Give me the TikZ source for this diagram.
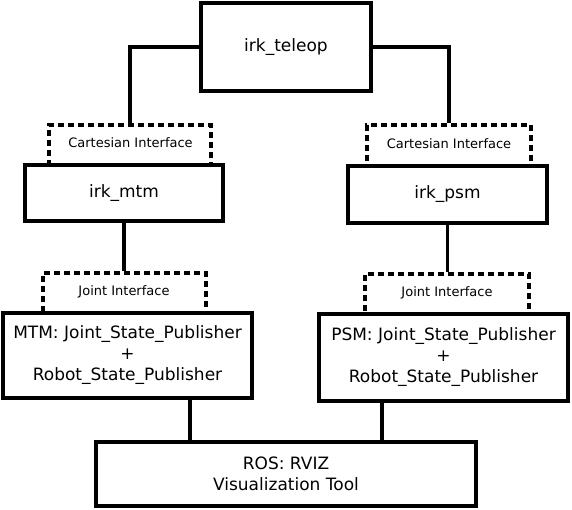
\documentclass[tikz,border=0pt]{standalone}
\usepackage{fontspec}
\setmainfont{DejaVu Sans}
\begin{document}
\begin{tikzpicture}[x=1pt,y=-1pt,
  solidbox/.style={draw,line width=4.5pt,fill=white,inner sep=0pt,align=center,
    font=\fontsize{17}{21}\selectfont},
  ifacebox/.style={draw,line width=4.5pt,dash pattern=on 6pt off 4pt,inner sep=0pt},
  ifacetext/.style={font=\fontsize{13}{15}\selectfont},
  conn/.style={line width=3.5pt}]
\useasboundingbox (0,0) rectangle (572,509);
% dashed interface boxes (drawn first, solid boxes overlap their bottoms)
\node[ifacebox,minimum width=162pt,minimum height=41pt] (cartL) at (130,145.5) {};
\node[ifacebox,minimum width=164pt,minimum height=42pt] (cartR) at (449,146) {};
\node[ifacebox,minimum width=163pt,minimum height=41pt] (jointL) at (124.5,293.5) {};
\node[ifacebox,minimum width=164pt,minimum height=41pt] (jointR) at (447,294.5) {};
\node[ifacetext] (cartLt) at (130.5,143) {Cartesian Interface};
\node[ifacetext] (cartRt) at (449,144) {Cartesian Interface};
\node[ifacetext] (jointLt) at (124,292) {Joint Interface};
\node[ifacetext] (jointRt) at (447,293) {Joint Interface};
% solid boxes
\node[solidbox,minimum width=170pt,minimum height=88pt] (teleop) at (286,47) {irk\_teleop};
\node[solidbox,minimum width=198pt,minimum height=56pt] (mtm) at (124,193) {irk\_mtm};
\node[solidbox,minimum width=199pt,minimum height=57pt] (psm) at (447.5,194.5) {irk\_psm};
\node[solidbox,minimum width=249pt,minimum height=85pt] (mtmpub) at (127.5,355.5)
  {MTM: Joint\_State\_Publisher\\+\\Robot\_State\_Publisher};
\node[solidbox,minimum width=249pt,minimum height=87pt] (psmpub) at (443.5,357.5)
  {PSM: Joint\_State\_Publisher\\+\\Robot\_State\_Publisher};
\node[solidbox,minimum width=380pt,minimum height=64pt] (rviz) at (286,474)
  {ROS: RVIZ\\Visualization Tool};
% connectors
\draw[conn] (teleop.west) -| (cartL.north);
\draw[conn] (teleop.east) -| (cartR.north);
\draw[conn] (mtm.south) -- (mtm.south |- jointL.north);
\draw[conn] (psm.south) -- (psm.south |- jointR.north);
\draw[conn] ([xshift=62.5pt]mtmpub.south) -- ([xshift=62.5pt]mtmpub.south |- rviz.north);
\draw[conn] ([xshift=-61.5pt]psmpub.south) -- ([xshift=-61.5pt]psmpub.south |- rviz.north);
\end{tikzpicture}
\end{document}
